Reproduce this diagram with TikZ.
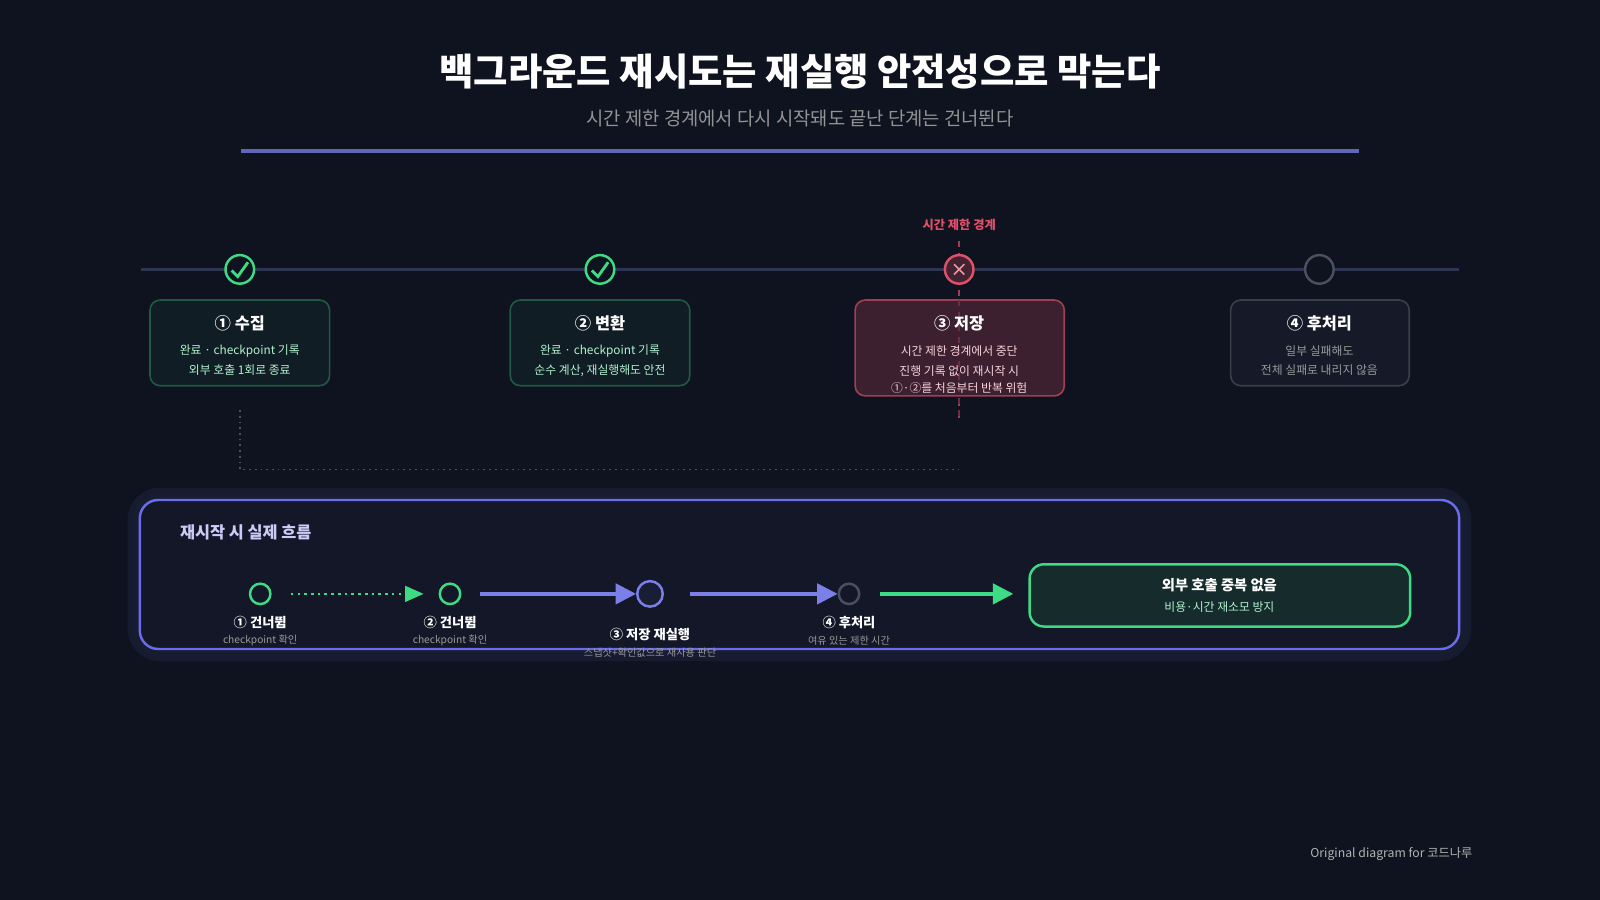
\documentclass[tikz,border=0pt]{standalone}
\usepackage{fontspec}
\setmainfont{Noto Sans CJK KR}
\usetikzlibrary{arrows.meta}
\definecolor{bg}{HTML}{0F1320}
\definecolor{gr}{HTML}{3DDC84}
\definecolor{rd}{HTML}{E0506A}
\definecolor{bl}{HTML}{7B7FE8}
\definecolor{gy}{HTML}{4A5060}
\definecolor{tl}{HTML}{2E3550}
\begin{document}
\begin{tikzpicture}[x=0.5pt,y=-0.5pt,
 card/.style={draw,rounded corners=5pt,line width=0.8pt},
 ttl/.style={text=white,font=\bfseries\fontsize{8}{9}\selectfont},
 ln/.style={font=\fontsize{5.8}{7}\selectfont},
 fl/.style={text=white,font=\bfseries\fontsize{6.5}{8}\selectfont},
 fs/.style={text=gray!80,font=\fontsize{5}{6}\selectfont},
 st/.style={circle,draw,line width=1.2pt,inner sep=0pt},
 ar/.style={line width=1.6pt,-{Triangle[length=10pt,width=10pt]}}]
\fill[bg] (0,0) rectangle (1568,882);
\useasboundingbox (0,0) rectangle (1568,882);
\node[text=white,font=\bfseries\fontsize{18.3}{22}\selectfont] (title) at (784,70) {백그라운드 재시도는 재실행 안전성으로 막는다};
\node[text=gray!85,font=\fontsize{9.2}{11}\selectfont] (sub) at (784,116) {시간 제한 경계에서 다시 시작돼도 끝난 단계는 건너뛴다};
\draw[line width=1.5pt,color=bl!80!black] (236,148) -- (1332,148);
% timeline
\draw[tl,line width=1.5pt] (138,264) -- (1430,264);
\draw[rd!70!bg,dashed,line width=0.8pt] (940,236) -- (940,410);
\node[text=rd,font=\bfseries\fontsize{6}{7}\selectfont] (bd) at (940,220) {시간 제한 경계};
\foreach \n/\x in {s1/235,s2/588}{
 \node[st,draw=gr,fill=bg,minimum size=14pt] (\n) at (\x,264) {};
 \draw[gr,line width=1.4pt] (\x-8,265) -- (\x-2,271) -- (\x+8,257);}
\node[st,draw=rd,fill=rd!25!bg,minimum size=14pt] (s3) at (940,264) {};
\draw[rd!60!white,line width=0.8pt] (935,259) -- (945,269) (935,269) -- (945,259);
\node[st,draw=gy,fill=bg,minimum size=14pt] (s4) at (1293,264) {};
% cards
\draw[card,draw=gr!35!bg,fill=gr!5!bg] (147,294) rectangle (323,378);
\draw[card,draw=gr!35!bg,fill=gr!5!bg] (500,294) rectangle (676,378);
\draw[card,draw=rd!70!bg,fill=rd!22!bg] (838,294) rectangle (1043,388);
\draw[card,draw=gy!70!bg,fill=gy!12!bg] (1206,294) rectangle (1381,378);
\draw[rd!45!bg,dashed,line width=0.8pt] (940,294) -- (940,410);
\node[ttl] (c1) at (235,317) {① 수집};
\node[ln,text=gr!40!white] at (235,344) {완료 · checkpoint 기록};
\node[ln,text=gr!40!white] at (235,363) {외부 호출 1회로 종료};
\node[ttl] (c2) at (588,317) {② 변환};
\node[ln,text=gr!40!white] at (588,344) {완료 · checkpoint 기록};
\node[ln,text=gr!40!white] at (588,363) {순수 계산, 재실행해도 안전};
\node[ttl] (c3) at (940,317) {③ 저장};
\node[ln,text=rd!25!white] at (940,344) {시간 제한 경계에서 중단};
\node[ln,text=rd!25!white] at (940,364) {진행 기록 없이 재시작 시};
\node[ln,text=rd!25!white] at (940,380) {①·②를 처음부터 반복 위험};
\node[ttl] (c4) at (1293,317) {④ 후처리};
\node[ln,text=gray!80] at (1293,344) {일부 실패해도};
\node[ln,text=gray!80] at (1293,363) {전체 실패로 내리지 않음};
\draw[gy,dotted,line width=0.8pt] (235,402) -- (235,460) -- (940,460);
% panel glow
\foreach \i/\o in {12/8,8/14,4/20}{
 \fill[bl,opacity=0.0\o,rounded corners=16pt] (137-\i,490-\i) rectangle (1430+\i,636+\i);}
\draw[rounded corners=9pt,draw=bl!85!blue,line width=1.2pt,fill=bl!6!bg!90!black] (137,490) rectangle (1430,636);
\node[anchor=west,inner sep=0pt,text=bl!40!white,font=\bfseries\fontsize{8}{10}\selectfont] (pt) at (176,522) {재시작 시 실제 흐름};
\node[st,draw=gr,minimum size=10pt] (f1) at (255,582) {};
\node[st,draw=gr,minimum size=10pt] (f2) at (441,582) {};
\node[st,draw=bl,fill=bl!10!bg,minimum size=12.5pt] (f3) at (637,582) {};
\node[st,draw=gy,minimum size=10pt] (f4) at (832,582) {};
\draw[gr,line width=1.3pt,dotted] (285,582) -- (400,582);
\fill[gr] (397,574) -- (415,582) -- (397,590) -- cycle;
\draw[ar,bl] (470,582) -- (f3);
\draw[ar,bl] (676,582) -- (f4);
\draw[ar,gr] (862,582) -- (993,582);
\node[fl] at (255,610) {① 건너뜀};
\node[fs] at (255,628) {checkpoint 확인};
\node[fl] at (441,610) {② 건너뜀};
\node[fs] at (441,628) {checkpoint 확인};
\node[fl] at (637,622) {③ 저장 재실행};
\node[fs] at (637,640) {스냅샷+확인값으로 재사용 판단};
\node[fl] at (832,610) {④ 후처리};
\node[fs] at (832,628) {여유 있는 제한 시간};
\draw[rounded corners=7pt,draw=gr,line width=1.2pt,fill=gr!12!bg] (1009,553) rectangle (1382,614);
\node[text=white,font=\bfseries\fontsize{7}{8}\selectfont] (ok) at (1195,573) {외부 호출 중복 없음};
\node[text=gr!40!white,font=\fontsize{5.8}{7}\selectfont] at (1195,595) {비용·시간 재소모 방지};
\node[anchor=east,text=gray!60,font=\fontsize{6}{7}\selectfont] (ft) at (1450,837) {Original diagram for 코드나루};
\end{tikzpicture}
\end{document}
